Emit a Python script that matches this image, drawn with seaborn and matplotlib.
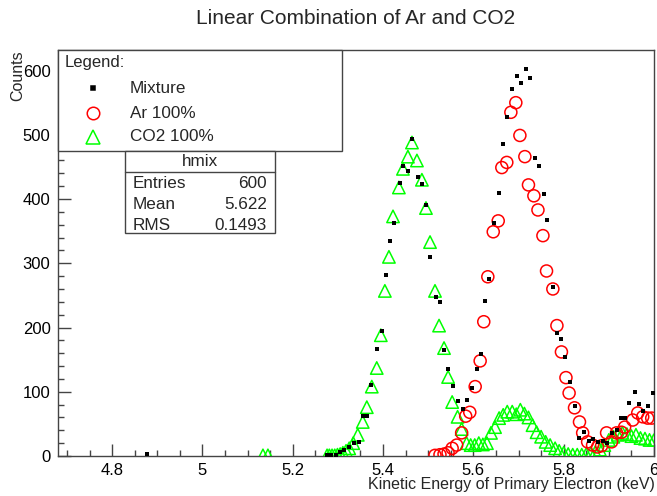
import numpy as np
import pandas as pd
import matplotlib
matplotlib.use("Agg")
import matplotlib.pyplot as plt
from matplotlib.patches import Rectangle
from matplotlib.lines import Line2D
from matplotlib.ticker import MultipleLocator, FixedLocator
import seaborn as sns

# ---- data: energy (keV) and counts for each spectrum ----
mix_energy = [4.877, 5.276, 5.285, 5.295, 5.304, 5.314, 5.325, 5.335, 5.347, 5.356,
              5.364, 5.373, 5.386, 5.397, 5.406, 5.415, 5.424, 5.437, 5.444, 5.455,
              5.464, 5.477, 5.486, 5.495, 5.505, 5.517, 5.526, 5.534, 5.544, 5.554,
              5.565, 5.576, 5.585, 5.596, 5.607, 5.616, 5.625, 5.634, 5.646, 5.656,
              5.665, 5.674, 5.685, 5.696, 5.705, 5.716, 5.725, 5.736, 5.745, 5.756,
              5.764, 5.776, 5.785, 5.795, 5.804, 5.815, 5.826, 5.835, 5.844, 5.855,
              5.866, 5.877, 5.886, 5.895, 5.906, 5.917, 5.926, 5.935, 5.944, 5.957,
              5.966, 5.975, 5.986, 5.997]
mix_counts = [3, 1, 1, 2, 6, 10, 14, 20, 22, 62,
              62, 111, 167, 195, 282, 335, 363, 425, 452, 443,
              494, 435, 424, 390, 309, 248, 240, 165, 135, 109,
              86, 73, 87, 106, 135, 159, 241, 276, 363, 410,
              485, 527, 572, 591, 581, 603, 589, 464, 452, 408,
              368, 263, 192, 182, 154, 115, 78, 28, 37, 23,
              26, 22, 23, 20, 36, 40, 59, 59, 83, 100,
              81, 70, 78, 98]

ar_energy = [5.515, 5.526, 5.535, 5.544, 5.553, 5.563, 5.574, 5.583, 5.592, 5.604,
             5.615, 5.623, 5.632, 5.644, 5.655, 5.663, 5.674, 5.683, 5.694, 5.703,
             5.714, 5.722, 5.734, 5.743, 5.754, 5.762, 5.776, 5.785, 5.795, 5.805,
             5.812, 5.824, 5.835, 5.842, 5.853, 5.864, 5.875, 5.884, 5.895, 5.906,
             5.917, 5.928, 5.935, 5.953, 5.964, 5.975, 5.986, 5.995]
ar_counts = [1, 2, 3, 5, 12, 17, 36, 62, 68, 108,
             148, 209, 279, 349, 366, 449, 457, 535, 550, 499,
             466, 422, 405, 383, 343, 288, 260, 203, 162, 122,
             98, 75, 53, 36, 22, 17, 14, 16, 36, 22,
             36, 37, 45, 56, 67, 61, 59, 59]

co2_energy = [5.134, 5.145, 5.276, 5.281, 5.287, 5.293, 5.299, 5.305, 5.311, 5.318,
              5.325, 5.334, 5.344, 5.355, 5.364, 5.375, 5.386, 5.395, 5.404, 5.413,
              5.422, 5.435, 5.444, 5.455, 5.464, 5.475, 5.486, 5.495, 5.504, 5.515,
              5.524, 5.535, 5.544, 5.553, 5.565, 5.574, 5.585, 5.594, 5.603, 5.612,
              5.621, 5.630, 5.639, 5.648, 5.657, 5.666, 5.675, 5.686, 5.695, 5.704,
              5.713, 5.722, 5.731, 5.740, 5.750, 5.760, 5.770, 5.781, 5.790, 5.800,
              5.810, 5.820, 5.830, 5.840, 5.850, 5.860, 5.870, 5.880, 5.890, 5.900,
              5.910, 5.920, 5.930, 5.940, 5.950, 5.960, 5.970, 5.980, 5.990, 6.000]
co2_counts = [1, 1, 1, 1, 1, 1, 2, 3, 5, 8,
              12, 20, 33, 53, 76, 108, 137, 188, 257, 310,
              373, 418, 447, 466, 488, 460, 430, 386, 333, 257,
              203, 168, 123, 84, 61, 42, 20, 17, 17, 20,
              18, 20, 36, 45, 59, 64, 69, 69, 65, 72,
              66, 60, 48, 37, 30, 22, 17, 12, 8, 5,
              3, 2, 2, 2, 3, 4, 6, 10, 17, 25,
              30, 33, 36, 34, 31, 33, 28, 27, 25, 25]

series_names = ["Mixture", "Ar 100%", "CO2 100%"]
x_ticks = [4.8, 5.0, 5.2, 5.4, 5.6, 5.8, 6.0]
x_tick_labels = ["4.8", "5", "5.2", "5.4", "5.6", "5.8", "6"]
y_ticks = [0, 100, 200, 300, 400, 500, 600]
stats_rows = [("Entries", "600"), ("Mean", "5.622"), ("RMS", "0.1493")]

sns.set_theme(style="white")
plt.rcParams["font.family"] = ["Liberation Sans", "DejaVu Sans"]

W, H = 657, 496
fig = plt.figure(figsize=(W / 100, H / 100), dpi=100)
ax = fig.add_axes([57.5 / W, 1 - 456 / H, (654 - 57.5) / W, (456 - 50) / H])

mix = pd.DataFrame({"energy": mix_energy, "counts": mix_counts})
ar = pd.DataFrame({"energy": ar_energy, "counts": ar_counts})
co2 = pd.DataFrame({"energy": co2_energy, "counts": co2_counts})

green = "#00ff00"
sns.scatterplot(data=co2, x="energy", y="counts", ax=ax, marker="^", s=80,
                facecolors="none", edgecolors=green, linewidth=1.1, zorder=3)
sns.scatterplot(data=ar, x="energy", y="counts", ax=ax, marker="o", s=75,
                facecolors="none", edgecolors="red", linewidth=1.1, zorder=4)
sns.scatterplot(data=mix, x="energy", y="counts", ax=ax, marker="s", s=8,
                color="black", linewidth=0, zorder=5)

ax.set_xlim(4.679, 6.0)
ax.set_ylim(0, 632)
ax.xaxis.set_major_locator(FixedLocator(x_ticks))
ax.set_xticklabels(x_tick_labels)
ax.xaxis.set_minor_locator(MultipleLocator(0.05))
ax.yaxis.set_major_locator(FixedLocator(y_ticks))
ax.set_yticklabels([str(v) for v in y_ticks])
ax.yaxis.set_minor_locator(MultipleLocator(20))
ax.tick_params(which="both", direction="in", bottom=True, left=True,
               top=False, right=False,
               color="#444444", width=1.0, labelsize=12, labelcolor="black")
ax.tick_params(which="major", length=9, pad=5)
ax.tick_params(which="minor", length=4.5)
for sp in ax.spines.values():
    sp.set_color("#444444")
    sp.set_linewidth(1.0)

ax.set_xlabel("")
ax.set_ylabel("")
fig.text(655 / W, 1 - 484 / H, "Kinetic Energy of Primary Electron (keV)",
         ha="right", va="center", fontsize=11.5)
fig.text(18 / W, 1 - 50 / H, "Counts", rotation=90, ha="center", va="top",
         fontsize=11.5)
fig.text(356 / W, 1 - 18 / H, "Linear Combination of Ar and CO2",
         ha="center", va="center", fontsize=15)

# legend box
def fx(px):
    return px / W

def fy(py):
    return 1 - py / H

fig.patches.append(Rectangle((fx(57.5), fy(151)), fx(342) - fx(57.5), fy(50) - fy(151),
                             transform=fig.transFigure, facecolor="white",
                             edgecolor="#444444", linewidth=1.0, zorder=10))
fig.text(fx(65), fy(63), "Legend:", ha="left", va="center", fontsize=12, zorder=11)
legend_rows = [(88, "s", 3, "black", "black"),
               (113, "o", 9, "none", "red"),
               (137, "^", 9.5, "none", green)]
for (py, mk, ms, fc, ec), name in zip(legend_rows, series_names):
    fig.lines.append(Line2D([fx(93)], [fy(py)], marker=mk, markersize=ms,
                            markerfacecolor=fc, markeredgecolor=ec,
                            markeredgewidth=1.1, linestyle="none",
                            transform=fig.transFigure, zorder=11))
    fig.text(fx(130), fy(py), name, ha="left", va="center", fontsize=12.3, zorder=11)

# statistics box
fig.patches.append(Rectangle((fx(124.5), fy(233)), fx(275) - fx(124.5), fy(151) - fy(233),
                             transform=fig.transFigure, facecolor="white",
                             edgecolor="#444444", linewidth=1.0, zorder=10))
fig.lines.append(Line2D([fx(124.5), fx(275)], [fy(172), fy(172)],
                        transform=fig.transFigure, color="#444444", linewidth=1.0,
                        zorder=11))
fig.text(fx(200), fy(162), "hmix", ha="center", va="center", fontsize=12.3, zorder=11)
for i, (k, v) in enumerate(stats_rows):
    py = 183 + i * 21
    fig.text(fx(133), fy(py), k, ha="left", va="center", fontsize=12.3, zorder=11)
    fig.text(fx(267), fy(py), v, ha="right", va="center", fontsize=12.3, zorder=11)

fig.savefig("out.png", dpi=100)
